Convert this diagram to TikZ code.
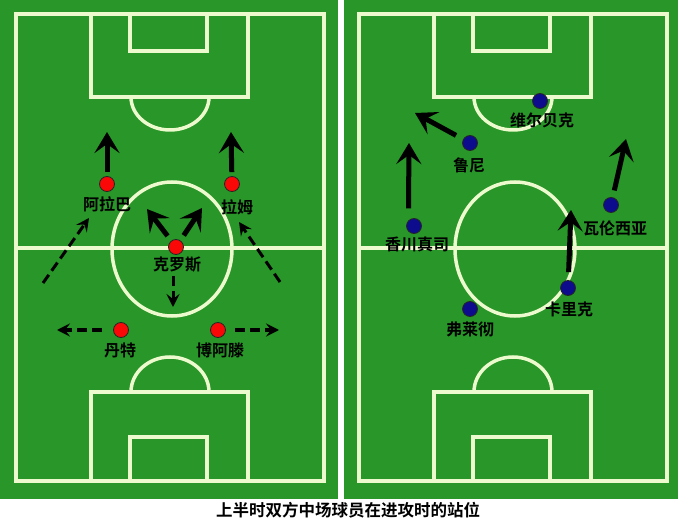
\documentclass[tikz,border=0pt]{standalone}
\usepackage{fontspec}
\newfontfamily\cjk{Noto Sans CJK SC}[BoldFont={Noto Sans CJK SC Bold}]
\usetikzlibrary{arrows.meta}
\definecolor{pitchgreen}{RGB}{40,150,40}
\definecolor{chalk}{RGB}{236,250,205}
\definecolor{bayred}{RGB}{250,8,8}
\definecolor{utdblue}{RGB}{12,12,140}
\tikzset{
  chalkline/.style={draw=chalk, line width=3.5pt},
  player/.style={circle, draw=black!85, line width=0.8pt, fill=#1, minimum size=15pt, inner sep=0pt},
  plname/.style={font=\cjk\bfseries\fontsize{16}{18}\selectfont, inner sep=0pt},
  run/.style={-{Stealth[length=21pt,width=25pt,inset=9pt]}, line width=5pt},
  drift/.style={-{Stealth[length=13pt,width=13pt,inset=5pt]}, line width=3pt, dash pattern=on 10pt off 5pt},
}
\begin{document}
\begin{tikzpicture}[x=1pt,y=-1pt]
    \useasboundingbox (0,0) rectangle (680,521);
    % the two pitches
    \foreach \cx/\gl/\gr in {170/0/338, 513/344/678} {
        \fill[pitchgreen] (\gl,0) rectangle (\gr,499);
        \draw[chalkline] (\cx-154,14) rectangle (\cx+154,481);
        \draw[chalkline] (\cx-154,248) -- (\cx+154,248);
        \draw[chalkline] (\cx+2,249) ellipse [x radius=60pt, y radius=67pt];
        \draw[chalkline] (\cx-79,14) |- (\cx+78,97) -- (\cx+78,14);
        \draw[chalkline] (\cx-40,14) |- (\cx+37,51) -- (\cx+37,14);
        \draw[chalkline] (\cx-39,97) arc[start angle=180, end angle=360, x radius=39pt, y radius=33pt];
        \draw[chalkline] (\cx-79,481) |- (\cx+78,392) -- (\cx+78,481);
        \draw[chalkline] (\cx-40,481) |- (\cx+37,437) -- (\cx+37,481);
        \draw[chalkline] (\cx-39,392) arc[start angle=180, end angle=0, x radius=39pt, y radius=35pt];
    }

    % left: red team
    \node[player=bayred] (alaba) at (107,184) {};
    \node[plname] (alabaL) at (107,204) {阿拉巴};
    \node[player=bayred] (lahm) at (232,184) {};
    \node[plname] (lahmL) at (237,207) {拉姆};
    \node[player=bayred] (kroos) at (176,247) {};
    \node[plname] (kroosL) at (177,265) {克罗斯};
    \node[player=bayred] (dante) at (121,330) {};
    \node[plname] (danteL) at (120,350) {丹特};
    \node[player=bayred] (boateng) at (218,330) {};
    \node[plname] (boatengL) at (220,350) {博阿滕};

    \coordinate (alabaT) at (107,132);
    \coordinate (lahmT) at (231,132);
    \coordinate (kroosA) at (147,209);
    \coordinate (kroosB) at (202,208);
    \draw[run, shorten <=4pt] (alaba) -- (alabaT);
    \draw[run, shorten <=4pt] (lahm) -- (lahmT);
    \draw[run, shorten <=6pt] (kroos) -- (kroosA);
    \draw[run, shorten <=6pt] (kroos) -- (kroosB);

    \coordinate (alabaS) at (43,283);
    \coordinate (alabaE) at (89,218);
    \coordinate (lahmS) at (280,282);
    \coordinate (lahmE) at (239,222);
    \coordinate (kroosS) at (173,276);
    \coordinate (kroosE) at (173,307);
    \coordinate (danteT) at (57,330);
    \coordinate (boatengT) at (279,330);
    \draw[drift] (alabaS) -- (alabaE);
    \draw[drift] (lahmS) -- (lahmE);
    \draw[drift] (kroosS) -- (kroosE);
    \draw[drift, shorten <=11pt] (dante) -- (danteT);
    \draw[drift, shorten <=9pt] (boateng) -- (boatengT);

    % right: blue team
    \node[player=utdblue] (welbeck) at (540,101) {};
    \node[plname] (welbeckL) at (542,120) {维尔贝克};
    \node[player=utdblue] (rooney) at (470,143) {};
    \node[plname] (rooneyL) at (469,165) {鲁尼};
    \node[player=utdblue] (kagawa) at (414,226) {};
    \node[plname] (kagawaL) at (417,244) {香川真司};
    \node[player=utdblue] (valencia) at (611,205) {};
    \node[plname] (valenciaL) at (615,228) {瓦伦西亚};
    \node[player=utdblue] (carrick) at (568,288) {};
    \node[plname] (carrickL) at (569,309) {卡里克};
    \node[player=utdblue] (fletcher) at (470,309) {};
    \node[plname] (fletcherL) at (470,329) {弗莱彻};

    \coordinate (rooneyT) at (415,113);
    \coordinate (kagawaT) at (409,143);
    \coordinate (valenciaT) at (626,139);
    \coordinate (carrickT) at (571,210);
    \draw[run, shorten <=8pt] (rooney) -- (rooneyT);
    \draw[run, shorten <=12pt] (kagawa.north west) -- (kagawaT);
    \draw[run, shorten <=7pt] (valencia) -- (valenciaT);
    \draw[run, shorten <=8pt] (carrick) -- (carrickT);

    \node[font=\cjk\bfseries\fontsize{16.5}{18}\selectfont, inner sep=0pt] (caption) at (348,510) {上半时双方中场球员在进攻时的站位};
\end{tikzpicture}
\end{document}
